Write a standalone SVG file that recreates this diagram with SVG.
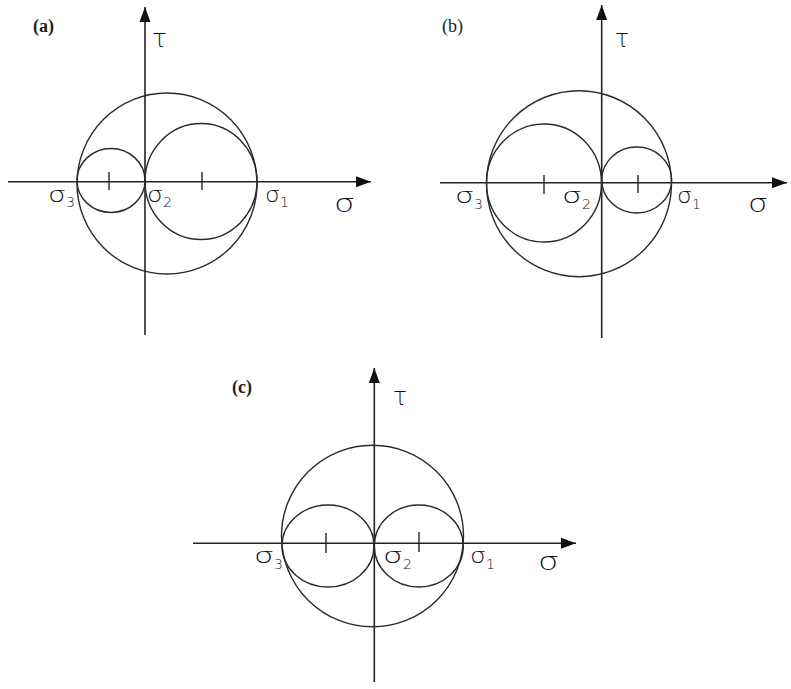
<svg xmlns="http://www.w3.org/2000/svg" width="791" height="689" viewBox="0 0 791 689">
<style>
.ax{stroke:#222;stroke-width:1.6;fill:none}
.c{stroke:#2a2a2a;stroke-width:1.4;fill:none}
.tk{stroke:#222;stroke-width:1.4}
.s{font-family:"DejaVu Sans","Liberation Sans",sans-serif;font-weight:200;font-size:22px;fill:#111}
.sub{font-size:14px}
.big{font-family:"DejaVu Sans","Liberation Sans",sans-serif;font-weight:200;font-size:25px;fill:#111}
.tau{font-family:"DejaVu Sans","Liberation Sans",sans-serif;font-weight:200;font-size:24px;fill:#111}
.lab{font-family:"Liberation Serif",serif;font-weight:bold;font-size:18px;fill:#1c1c2c}
.labn{font-family:"Liberation Serif",serif;font-weight:normal;font-size:18px;fill:#1c1c2c}
</style>
<defs>
<marker id="ar" markerUnits="userSpaceOnUse" markerWidth="16" markerHeight="12" refX="15" refY="6" orient="auto">
<path d="M0,0.5 L15,6 L0,11.5 z" fill="#111"/>
</marker>
</defs>
<rect width="791" height="689" fill="#fff"/>

<g id="panel-a">
<g id="axes-a">
<line class="ax" x1="8" y1="181.7" x2="371" y2="181.7" marker-end="url(#ar)"/>
<line class="ax" x1="145" y1="335" x2="145" y2="7" marker-end="url(#ar)"/>
</g>
<g id="circles-a">
<ellipse class="c" cx="167" cy="183.5" rx="90" ry="90.5"/>
<ellipse class="c" cx="111" cy="180.5" rx="34" ry="32"/>
<ellipse class="c" cx="201" cy="181.5" rx="56" ry="58"/>
<line class="tk" x1="109" y1="172" x2="109" y2="190"/>
<line class="tk" x1="202" y1="172" x2="202" y2="190"/>
</g>
<g id="labels-a">
<text class="lab" x="33" y="32">(a)</text>
<text class="tau" x="152" y="47" textLength="15" lengthAdjust="spacingAndGlyphs">τ</text>
<text class="s" x="48" y="202"><tspan textLength="18" lengthAdjust="spacingAndGlyphs">σ</tspan><tspan class="sub" dy="5">3</tspan></text>
<text class="s" x="147" y="202"><tspan textLength="16" lengthAdjust="spacingAndGlyphs">σ</tspan><tspan class="sub" dy="5">2</tspan></text>
<text class="s" x="265" y="202"><tspan textLength="15" lengthAdjust="spacingAndGlyphs">σ</tspan><tspan class="sub" dy="5">1</tspan></text>
<text class="big" x="334" y="212" textLength="21" lengthAdjust="spacingAndGlyphs">σ</text>
</g>
</g>

<g id="panel-b">
<g id="axes-b">
<line class="ax" x1="440" y1="182.7" x2="787" y2="182.7" marker-end="url(#ar)"/>
<line class="ax" x1="601.7" y1="338" x2="601.7" y2="5" marker-end="url(#ar)"/>
</g>
<g id="circles-b">
<ellipse class="c" cx="579" cy="183.7" rx="92.5" ry="93"/>
<ellipse class="c" cx="544" cy="183" rx="57.5" ry="59"/>
<ellipse class="c" cx="636.7" cy="180" rx="35" ry="33"/>
<line class="tk" x1="544" y1="175" x2="544" y2="194"/>
<line class="tk" x1="638" y1="175" x2="638" y2="193"/>
</g>
<g id="labels-b">
<text class="labn" x="442" y="32">(b)</text>
<text class="tau" x="615" y="47" textLength="14" lengthAdjust="spacingAndGlyphs">τ</text>
<text class="s" x="455" y="203"><tspan textLength="19" lengthAdjust="spacingAndGlyphs">σ</tspan><tspan class="sub" dy="6">3</tspan></text>
<text class="s" x="562" y="203"><tspan textLength="20" lengthAdjust="spacingAndGlyphs">σ</tspan><tspan class="sub" dy="6">2</tspan></text>
<text class="s" x="677" y="203"><tspan textLength="15" lengthAdjust="spacingAndGlyphs">σ</tspan><tspan class="sub" dy="6">1</tspan></text>
<text class="big" x="748" y="212" textLength="20" lengthAdjust="spacingAndGlyphs">σ</text>
</g>
</g>

<g id="panel-c">
<g id="axes-c">
<line class="ax" x1="193" y1="543.3" x2="576" y2="543.3" marker-end="url(#ar)"/>
<line class="ax" x1="374.3" y1="682" x2="374.3" y2="368" marker-end="url(#ar)"/>
</g>
<g id="circles-c">
<ellipse class="c" cx="372.5" cy="536" rx="91" ry="90.8"/>
<ellipse class="c" cx="328" cy="546" rx="46" ry="41"/>
<ellipse class="c" cx="418.8" cy="546" rx="44.5" ry="41"/>
<line class="tk" x1="326" y1="533" x2="326" y2="553"/>
<line class="tk" x1="419" y1="532" x2="419" y2="552"/>
</g>
<g id="labels-c">
<text class="lab" x="232" y="393">(c)</text>
<text class="tau" x="393" y="405" textLength="14" lengthAdjust="spacingAndGlyphs">τ</text>
<text class="s" x="254" y="563"><tspan textLength="20" lengthAdjust="spacingAndGlyphs">σ</tspan><tspan class="sub" dy="6">3</tspan></text>
<text class="s" x="383" y="563"><tspan textLength="20" lengthAdjust="spacingAndGlyphs">σ</tspan><tspan class="sub" dy="6">2</tspan></text>
<text class="s" x="470" y="563"><tspan textLength="16" lengthAdjust="spacingAndGlyphs">σ</tspan><tspan class="sub" dy="6">1</tspan></text>
<text class="big" x="538" y="570" textLength="21" lengthAdjust="spacingAndGlyphs">σ</text>
</g>
</g>
</svg>
